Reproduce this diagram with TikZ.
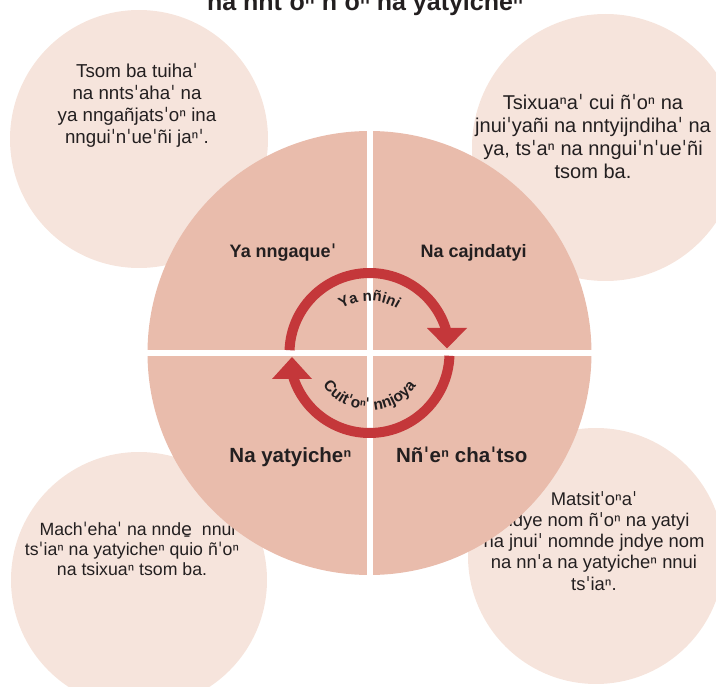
\documentclass[tikz,border=0pt]{standalone}
\usepackage{fontspec}
\setmainfont{Liberation Sans}
\newfontfamily\dvfont{DejaVu Sans}
\usetikzlibrary{decorations.text}
\definecolor{bigc}{HTML}{E9BCAC}
\definecolor{smallc}{HTML}{F6E4DC}
\definecolor{ringred}{HTML}{C4373A}
\definecolor{txt}{HTML}{231F20}
\newcommand\vq{{\dvfont ˈ}}
\newcommand\eu{{\dvfont e̱}}
\tikzset{
  smalltext/.style 2 args={text=txt, inner sep=0pt, anchor=base, font=\fontsize{#1}{#2}\selectfont},
  quadlab/.style={text=txt, inner sep=0pt, anchor=base, font=\bfseries\fontsize{#1}{#1}\selectfont},
  bubble/.style={fill=smallc},
  ring/.style={draw=ringred, line width=10pt},
  ringhead/.style={fill=ringred},
  cross/.style={draw=white, line width=6pt},
}
\begin{document}
\begin{tikzpicture}[x=1pt,y=1pt]
\useasboundingbox (0,0) rectangle (716,-687);
\clip (0,0) rectangle (716,-687);
\coordinate (C) at (369.5,-353);
% small circles
\fill[bubble] (139,-139) circle[radius=129];
\fill[bubble] (605.5,-147.5) circle[radius=133.5];
\fill[bubble] (139,-580) circle[radius=128];
\fill[bubble] (596,-556) circle[radius=128];
% texts in small circles
\node[smalltext={18.7}{22}] (tl) at (137,-77.3) {\begin{tabular}[t]{@{}c@{}}Tsom ba tuiha\vq\\na nnts\vq aha\vq{} na\\ya nngañjats\vq oⁿ ina\\nngui\vq n\vq ue\vq ñi jaⁿ\vq.\end{tabular}};
\node[smalltext={20}{23}] (tr) at (593,-109.3) {\begin{tabular}[t]{@{}c@{}}Tsixuaⁿa\vq{} cui ñ\vq oⁿ na\\jnui\vq yañi na nntyijndiha\vq{} na\\ya, ts\vq aⁿ na nngui\vq n\vq ue\vq ñi\\tsom ba.\end{tabular}};
\node[smalltext={17.7}{20.3}] (bl) at (132,-535) {\begin{tabular}[t]{@{}c@{}}\hspace{11pt}Mach\vq eha\vq{} na nnd\eu\hspace{5pt} nnui\\ts\vq iaⁿ na yatyicheⁿ quio ñ\vq oⁿ\\na tsixuaⁿ tsom ba.\end{tabular}};
\node[smalltext={18.4}{21.3}] (br) at (594,-505) {\begin{tabular}[t]{@{}c@{}}Matsit\vq oⁿa\vq\\jndye nom ñ\vq oⁿ na yatyi\\na jnui\vq{} nomnde jndye nom\\na nn\vq a na yatyicheⁿ nnui\\ts\vq iaⁿ.\end{tabular}};
% big circle
\fill[bigc] (C) circle[radius=222];
\draw[cross] (369.5,-130) -- (369.5,-576);
\draw[cross] (147,-353) -- (592,-353);
% quadrant labels
\node[quadlab=18] (q1) at (283,-257.3) {Ya nngaque\vq};
\node[quadlab=18] (q2) at (473.7,-257.3) {Na cajndatyi};
\node[quadlab=20.5] (q3) at (290.5,-462.3) {Na yatyicheⁿ};
\node[quadlab=20.5] (q4) at (461.7,-462.3) {Nñ\vq eⁿ cha\vq tso};
% cycle ring
\draw[ring] ([shift={(178:80)}]C) arc[start angle=178, end angle=16, radius=80];
\fill[ringhead] (427,-328) -- (467,-328) -- (447,-348.5) -- cycle;
\draw[ring] ([shift={(-2:80)}]C) arc[start angle=-2, end angle=-163, radius=80];
\fill[ringhead] (272,-379) -- (312,-379) -- (292,-357) -- cycle;
% curved labels
\path[decorate, decoration={text along path, text align=center,
  text={|\bfseries\fontsize{15}{18}\selectfont\color{txt}|Ya nñini}}]
  ([shift={(160:52)}]C) arc[start angle=160, end angle=20, radius=52];
\path[decorate, decoration={text along path, text align=center,
  text={|\bfseries\fontsize{15.5}{18}\selectfont\color{txt}|Cuit{\dvfont ˈ}oⁿ{\dvfont ˈ} nnjoya}}]
  ([shift={(200:57)}]C) arc[start angle=200, end angle=340, radius=57];
% title
\node[anchor=base, inner sep=0pt, text=txt, font=\bfseries\fontsize{25}{28}\selectfont] (title) at (365,-10.5) {na nnt\vq oⁿ ñ\vq oⁿ na yatyicheⁿ};
\end{tikzpicture}
\end{document}
